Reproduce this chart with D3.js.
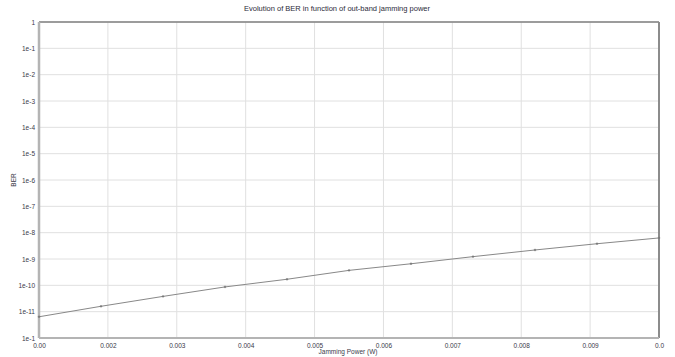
<!DOCTYPE html>
<html>
<head>
<meta charset="utf-8">
<script src="https://cdn.jsdelivr.net/npm/d3@7"></script>
<style>
  body { margin: 0; background: #fff; }
  text { font-family: "Liberation Sans", Arial, sans-serif; }
</style>
</head>
<body>
<div id="chart"></div>
<script>
// data
const power = [0.001, 0.0019, 0.0028, 0.0037, 0.0046, 0.0055, 0.0064, 0.0073, 0.0082, 0.0091, 0.01];
const ber = [6.4e-12, 1.6e-11, 3.8e-11, 8.7e-11, 1.7e-10, 3.7e-10, 6.6e-10, 1.23e-9, 2.2e-9, 3.8e-9, 6.3e-9];

const xTicks = [0.001, 0.002, 0.003, 0.004, 0.005, 0.006, 0.007, 0.008, 0.009, 0.01];
const xTickLabels = ["0.00", "0.002", "0.003", "0.004", "0.005", "0.006", "0.007", "0.008", "0.009", "0.0"];
const yTicks = [1, 1e-1, 1e-2, 1e-3, 1e-4, 1e-5, 1e-6, 1e-7, 1e-8, 1e-9, 1e-10, 1e-11, 1e-12];
const yTickLabels = ["1", "1e-1", "1e-2", "1e-3", "1e-4", "1e-5", "1e-6", "1e-7", "1e-8", "1e-9", "1e-10", "1e-11", "1e-1"];

const width = 675, height = 357;
const margin = { top: 22, right: 16, bottom: 19, left: 39 };

const svg = d3.select("#chart").append("svg")
  .attr("width", width)
  .attr("height", height);

const x = d3.scaleLinear()
  .domain([0.001, 0.01])
  .range([margin.left, width - margin.right]);

const y = d3.scaleLog()
  .domain([1e-12, 1])
  .range([height - margin.bottom, margin.top]);

// grid
svg.append("g")
  .selectAll("line.vgrid")
  .data(xTicks)
  .join("line")
  .attr("class", "vgrid")
  .attr("x1", d => x(d)).attr("x2", d => x(d))
  .attr("y1", margin.top).attr("y2", height - margin.bottom)
  .attr("stroke", "#e0e0e0")
  .attr("stroke-width", 1);

svg.append("g")
  .selectAll("line.hgrid")
  .data(yTicks)
  .join("line")
  .attr("class", "hgrid")
  .attr("x1", margin.left).attr("x2", width - margin.right)
  .attr("y1", d => y(d)).attr("y2", d => y(d))
  .attr("stroke", "#e0e0e0")
  .attr("stroke-width", 1);

// frame
const x0 = margin.left, x1 = width - margin.right;
const y0 = margin.top, y1 = height - margin.bottom;
svg.append("line").attr("x1", x0).attr("x2", x1).attr("y1", y0).attr("y2", y0)
  .attr("stroke", "#808080").attr("stroke-width", 1.5);
svg.append("line").attr("x1", x1).attr("x2", x1).attr("y1", y0).attr("y2", y1)
  .attr("stroke", "#8c8c8c").attr("stroke-width", 2);
svg.append("line").attr("x1", x0).attr("x2", x0).attr("y1", y0).attr("y2", y1)
  .attr("stroke", "#b4b4b4").attr("stroke-width", 2.5);
svg.append("line").attr("x1", x0).attr("x2", x1).attr("y1", y1).attr("y2", y1)
  .attr("stroke", "#b4b4b4").attr("stroke-width", 2);

// axes
const xAxis = d3.axisBottom(x)
  .tickValues(xTicks)
  .tickSize(0)
  .tickPadding(5)
  .tickFormat((d, i) => xTickLabels[i]);

svg.append("g")
  .attr("transform", `translate(0,${y1})`)
  .call(xAxis)
  .call(g => g.select(".domain").remove())
  .selectAll("text")
  .attr("font-size", 6.5)
  .attr("fill", "#3a3a48");

const yAxis = d3.axisLeft(y)
  .tickValues(yTicks)
  .tickSize(0)
  .tickPadding(4)
  .tickFormat((d, i) => yTickLabels[i]);

svg.append("g")
  .attr("transform", `translate(${x0},0)`)
  .call(yAxis)
  .call(g => g.select(".domain").remove())
  .selectAll("text")
  .attr("font-size", 6.5)
  .attr("fill", "#3a3a48");

// line
const line = d3.line()
  .x((d, i) => x(power[i]))
  .y(d => y(d));

svg.append("path")
  .datum(ber)
  .attr("fill", "none")
  .attr("stroke", "#888888")
  .attr("stroke-width", 1)
  .attr("d", line);

// markers
svg.append("g")
  .selectAll("path.marker")
  .data(ber)
  .join("path")
  .attr("class", "marker")
  .attr("d", (d, i) => {
    const px = x(power[i]), py = y(d);
    return `M${px - 1.2},${py}H${px + 1.2}M${px},${py - 1.2}V${py + 1.2}`;
  })
  .attr("stroke", "#777777")
  .attr("stroke-width", 1);

// titles
svg.append("text")
  .attr("x", 337)
  .attr("y", 11)
  .attr("text-anchor", "middle")
  .attr("font-size", 7.5)
  .attr("fill", "#2a2a3a")
  .text("Evolution of BER in function of out-band jamming power");

svg.append("text")
  .attr("x", 348)
  .attr("y", 354)
  .attr("text-anchor", "middle")
  .attr("font-size", 6.5)
  .attr("fill", "#3a3a48")
  .text("Jamming Power (W)");

svg.append("text")
  .attr("transform", "translate(16,180) rotate(-90)")
  .attr("text-anchor", "middle")
  .attr("font-size", 6.5)
  .attr("fill", "#3a3a48")
  .text("BER");
</script>
</body>
</html>
